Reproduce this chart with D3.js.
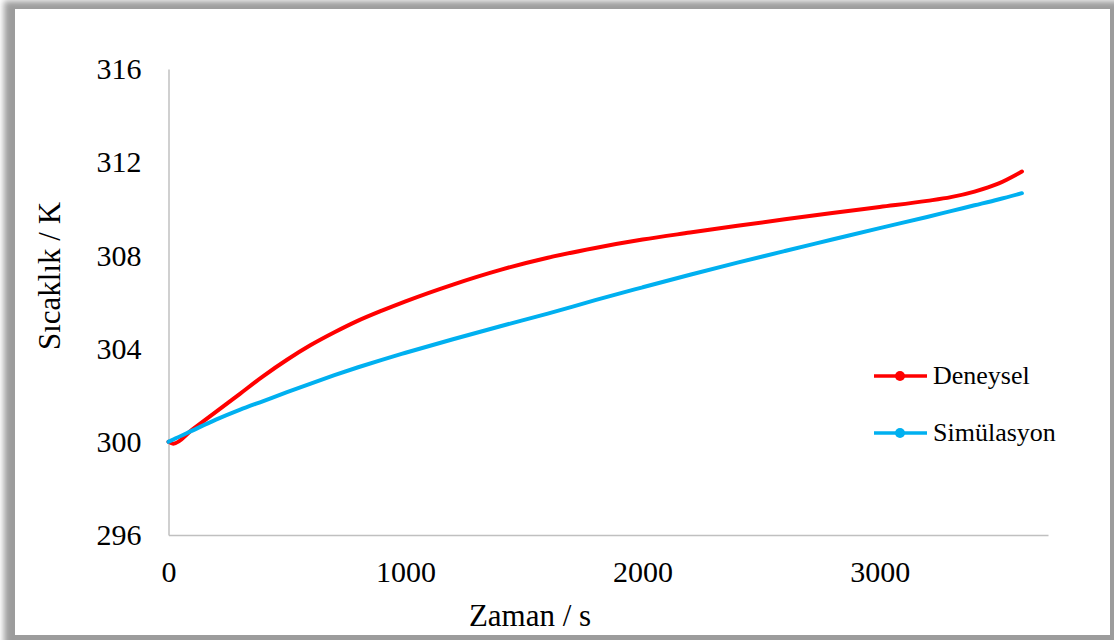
<!DOCTYPE html>
<html>
<head>
<meta charset="utf-8">
<script src="https://cdn.jsdelivr.net/npm/d3@7.9.0/dist/d3.min.js"></script>
<style>
  html, body { margin: 0; padding: 0; background: #fff; }
</style>
</head>
<body>
<svg id="chart" width="1114" height="640"></svg>
<script>
// time in seconds
const zaman = [0, 20, 100, 200, 300, 400, 500, 600, 700, 800, 900, 1000, 1200, 1400,
  1600, 1800, 2000, 2200, 2400, 2600, 2800, 3000, 3200, 3300, 3400, 3500, 3600];
const deneysel = [300.0, 299.92, 300.52, 301.28, 302.05, 302.82, 303.52, 304.15, 304.7,
  305.2, 305.63, 306.03, 306.75, 307.38, 307.9, 308.32, 308.68, 308.98, 309.27, 309.55,
  309.82, 310.08, 310.34, 310.5, 310.74, 311.08, 311.6];
const simulasyon = [300.0, 300.1, 300.48, 300.95, 301.37, 301.75, 302.13, 302.5, 302.86,
  303.2, 303.52, 303.82, 304.4, 304.96, 305.5, 306.08, 306.63, 307.17, 307.69, 308.19,
  308.68, 309.17, 309.65, 309.9, 310.15, 310.4, 310.67];
const xTicks = [0, 1000, 2000, 3000];
const yTicks = [296, 300, 304, 308, 312, 316];
const seriesNames = ["Deneysel", "Simülasyon"];
const seriesColors = ["#ff0000", "#00b0f0"];

const serif = "'Liberation Serif', Tinos, 'Nimbus Roman', 'Noto Serif', 'DejaVu Serif', serif";
const svg = d3.select("#chart").style("font-family", serif);

// frame with shadow
const defs = svg.append("defs");
defs.append("filter").attr("id", "shadow")
  .attr("x", "-5%").attr("y", "-5%").attr("width", "110%").attr("height", "110%")
  .append("feGaussianBlur").attr("stdDeviation", 3);
svg.append("rect").attr("x", 4).attr("y", 1).attr("width", 1120).attr("height", 650)
  .attr("fill", "#9c9c9c").attr("filter", "url(#shadow)");
svg.append("rect").attr("x", 15).attr("y", 9).attr("width", 1095).attr("height", 626)
  .attr("fill", "#fff");

const x = d3.scaleLinear().domain([0, 3710]).range([168.5, 1048]);
const y = d3.scaleLinear().domain([296, 316]).range([535, 69]);

// axes
const xAxis = svg.append("g").attr("transform", `translate(0,${y(296)})`)
  .call(d3.axisBottom(x).tickValues(xTicks).tickFormat(d3.format("d"))
    .tickSize(0).tickPadding(26));
const yAxis = svg.append("g").attr("transform", `translate(${x(0)},0)`)
  .call(d3.axisLeft(y).tickValues(yTicks).tickFormat(d3.format("d"))
    .tickSize(0).tickPadding(27));
[xAxis, yAxis].forEach(a => {
  a.attr("font-family", null);
  a.select(".domain").attr("stroke", "#c0c0c0").attr("stroke-width", 1.5);
  a.selectAll("text").attr("font-size", 30).attr("fill", "#000");
});

// lines
const data = [deneysel, simulasyon];
const line = d3.line()
  .x((d, i) => x(zaman[i]))
  .y(d => y(d))
  .curve(d3.curveMonotoneX);

svg.selectAll("path.series")
  .data(data)
  .enter()
  .append("path")
  .attr("class", "series")
  .attr("d", line)
  .attr("fill", "none")
  .attr("stroke", (d, i) => seriesColors[i])
  .attr("stroke-width", 4)
  .attr("stroke-linecap", "round")
  .attr("stroke-linejoin", "round");

// axis titles
svg.append("text")
  .attr("x", 530).attr("y", 626)
  .attr("text-anchor", "middle")
  .attr("font-size", 31)
  .text("Zaman / s");
svg.append("text")
  .attr("transform", "translate(60,276) rotate(-90)")
  .attr("text-anchor", "middle")
  .attr("font-size", 31)
  .text("Sıcaklık / K");

// legend
const legend = svg.append("g");
const items = legend.selectAll("g")
  .data(seriesNames)
  .enter()
  .append("g")
  .attr("transform", (d, i) => `translate(0,${376 + i * 57})`);
items.append("line")
  .attr("x1", 874).attr("x2", 927)
  .attr("stroke", (d, i) => seriesColors[i])
  .attr("stroke-width", 3.5);
items.append("circle")
  .attr("cx", 900).attr("r", 5)
  .attr("fill", (d, i) => seriesColors[i]);
items.append("text")
  .attr("x", 933).attr("y", 8)
  .attr("font-size", 26)
  .text(d => d);
</script>
</body>
</html>
